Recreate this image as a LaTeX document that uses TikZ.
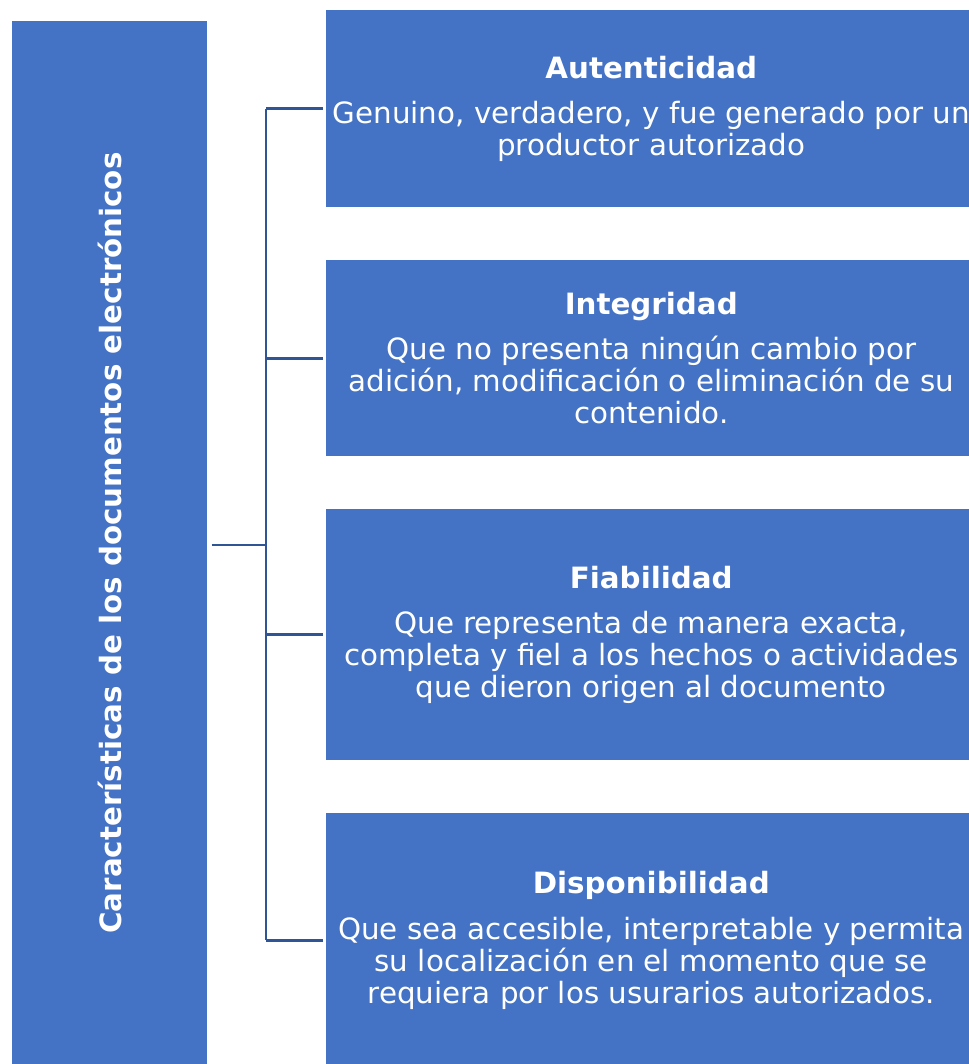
\documentclass[tikz,border=0pt]{standalone}
\usepackage{fontspec}
\setmainfont{DejaVu Sans}
\definecolor{boxblue}{HTML}{4472C4}
\definecolor{linkblue}{HTML}{2F5597}
\tikzset{
  bluebox/.style={fill=boxblue, draw=none, inner sep=0pt, anchor=north west},
  boxtext/.style={text=white, align=center, font=\fontsize{22}{24}\selectfont, inner sep=0pt},
  link/.style={draw=linkblue, line width=2.2pt}
}
\begin{document}
\begin{tikzpicture}[x=0.75pt,y=-0.75pt]
\useasboundingbox (0,0) rectangle (969,1064);
\clip (0,0) rectangle (969,1064);
\node[bluebox, minimum width=146.25pt, minimum height=787.5pt] (left) at (12,21) {};
\node[bluebox, minimum width=487.5pt, minimum height=147.75pt] (b1) at (326,10) {};
\node[bluebox, minimum width=487.5pt, minimum height=147pt] (b2) at (326,260) {};
\node[bluebox, minimum width=487.5pt, minimum height=188.25pt] (b3) at (326,509) {};
\node[bluebox, minimum width=487.5pt, minimum height=190.5pt] (b4) at (326,813) {};
\node[boxtext, rotate=90, font=\bfseries\fontsize{22}{24}\selectfont] (lt) at (110,543) {Características de los documentos electrónicos};
\node[boxtext] (t1) at (b1.center) {\textbf{Autenticidad}\\[10pt]Genuino, verdadero, y fue generado por un\\productor autorizado};
\node[boxtext] (t2) at (b2.center) {\textbf{Integridad}\\[10pt]Que no presenta ningún cambio por\\adición, modificación o eliminación de su\\contenido.};
\node[boxtext] (t3) at (b3.center) {\textbf{Fiabilidad}\\[10pt]Que representa de manera exacta,\\completa y fiel a los hechos o actividades\\que dieron origen al documento};
\node[boxtext] (t4) at (b4.center) {\textbf{Disponibilidad}\\[10pt]Que sea accesible, interpretable y permita\\su localización en el momento que se\\requiera por los usurarios autorizados.};
\coordinate (hub) at (266,545);
\draw[link] ([xshift=3pt]left.east |- hub) -- (hub);
\draw[link] (hub |- b1.west) -- (hub |- b4.west);
\draw[link] (hub |- b1.west) -- ([xshift=-2.25pt]b1.west);
\draw[link] (hub |- b2.west) -- ([xshift=-2.25pt]b2.west);
\draw[link] (hub |- b3.west) -- ([xshift=-2.25pt]b3.west);
\draw[link] (hub |- b4.west) -- ([xshift=-2.25pt]b4.west);
\end{tikzpicture}
\end{document}
